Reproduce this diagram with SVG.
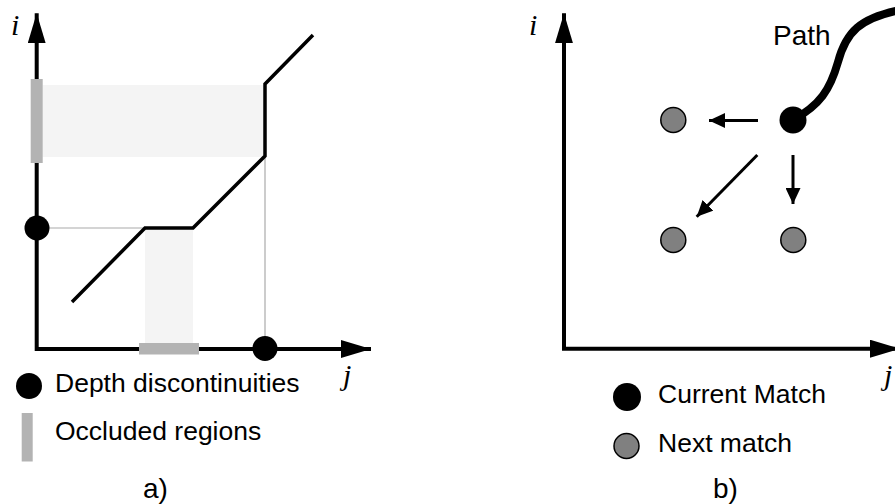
<svg xmlns="http://www.w3.org/2000/svg" width="895" height="504" viewBox="0 0 895 504">
  <style>
    .axis { fill: none; stroke: #000; stroke-width: 4; stroke-linejoin: miter; marker-start: url(#axhead); marker-end: url(#axhead); }
    .curve { fill: none; stroke: #000; stroke-width: 3.5; stroke-linejoin: miter; }
    .guide { fill: none; stroke: #aaaaaa; stroke-width: 1.2; }
    .shade { fill: #f4f4f4; }
    .occl { fill: #b3b3b3; }
    .disc { fill: #000; }
    .next { fill: #808080; stroke: #000; stroke-width: 1.5; }
    .arrow { fill: none; stroke: #000; stroke-width: 3; marker-end: url(#smhead); }
    .lbl { font-family: "Liberation Sans", Arial, Helvetica, sans-serif; font-size: 26.5px; fill: #000; }
    .cap { font-family: "Liberation Sans", Arial, Helvetica, sans-serif; font-size: 28px; fill: #000; }
    .var { font-family: "Liberation Serif", "Times New Roman", serif; font-style: italic; font-size: 30px; fill: #000; }
  </style>
  <defs>
    <marker id="axhead" markerUnits="userSpaceOnUse" markerWidth="30" markerHeight="18" refX="30" refY="9" orient="auto-start-reverse" viewBox="0 0 30 18">
      <path d="M0,0 L30,9 L0,18 z" fill="#000"/>
    </marker>
    <marker id="smhead" markerUnits="userSpaceOnUse" markerWidth="16" markerHeight="15" refX="16" refY="7.5" orient="auto" viewBox="0 0 16 15">
      <path d="M0,0 L16,7.5 L0,15 z" fill="#000"/>
    </marker>
  </defs>

  <!-- Panel a -->
  <g id="panel-a">
    <rect class="shade" x="42.7" y="85" width="222" height="72"/>
    <rect class="shade" x="145" y="228" width="48" height="115"/>
    <line class="guide" x1="37" y1="228" x2="145" y2="228"/>
    <line class="guide" x1="265" y1="156" x2="265" y2="348"/>
    <polyline class="axis" points="36.7,13.3 36.7,349 371,349"/>
    <rect class="occl" x="30.7" y="79" width="12" height="84"/>
    <rect class="occl" x="139" y="343" width="60" height="11.5"/>
    <polyline class="curve" points="72,302 145,228 193,228 265,156 265,84 313,35"/>
    <circle class="disc" cx="37" cy="228" r="12.5"/>
    <circle class="disc" cx="265" cy="348.5" r="12.5"/>
    <text class="var" x="11" y="35">i</text>
    <text class="var" x="343" y="385">j</text>
  </g>
  <g id="legend-a">
    <circle class="disc" cx="29" cy="386" r="13"/>
    <text class="lbl" x="55" y="392">Depth discontinuities</text>
    <rect class="occl" x="21.7" y="413" width="11" height="48.5"/>
    <text class="lbl" x="55" y="440">Occluded regions</text>
    <text class="cap" x="143" y="498">a)</text>
  </g>

  <!-- Panel b -->
  <g id="panel-b">
    <polyline class="axis" points="564,13.3 564,348.7 900,348.7"/>
    <text class="var" x="529" y="35">i</text>
    <text class="var" x="884" y="385">j</text>
  </g>
  <g id="connectors">
    <line class="arrow" x1="758" y1="120.5" x2="709" y2="120.5"/>
    <line class="arrow" x1="793" y1="155" x2="793" y2="204"/>
    <line class="arrow" x1="757.3" y1="155" x2="696.7" y2="216.7"/>
    <path d="M793,120 C820,105 830,90 838,62 C846,32 860,18 900,10" fill="none" stroke="#000" stroke-width="8"/>
  </g>
  <g id="current-match">
    <circle class="disc" cx="793" cy="120" r="13.5"/>
  </g>
  <g id="next-left"><circle class="next" cx="673.3" cy="120" r="12.5"/></g>
  <g id="next-diag"><circle class="next" cx="673.3" cy="240" r="12.5"/></g>
  <g id="next-down"><circle class="next" cx="793.3" cy="240" r="12.5"/></g>
  <g id="path-label"><text class="cap" x="773" y="45">Path</text></g>
  <g id="legend-b">
    <circle class="disc" cx="627" cy="397" r="14"/>
    <text class="lbl" x="658" y="403">Current Match</text>
    <circle class="next" cx="626.5" cy="446" r="12.5"/>
    <text class="lbl" x="658" y="451.5">Next match</text>
    <text class="cap" x="713" y="498">b)</text>
  </g>
</svg>
